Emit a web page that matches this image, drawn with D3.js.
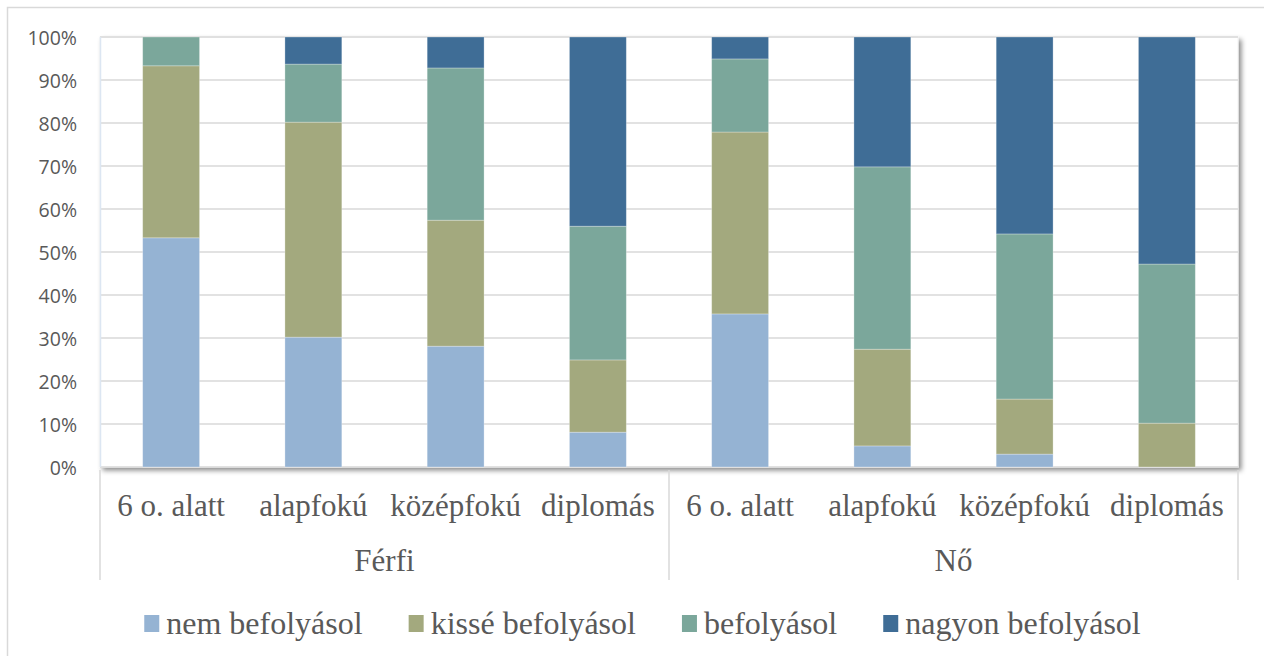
<!DOCTYPE html>
<html>
<head>
<meta charset="utf-8">
<script src="https://cdn.jsdelivr.net/npm/d3@7"></script>
<style>
  html, body { margin: 0; padding: 0; background: #fff; }
  svg { display: block; }
</style>
</head>
<body>
<svg id="chart" width="1264" height="656"></svg>
<script>
// ---- data ----
const groups = ["Férfi", "Nő"];
const categories = ["6 o. alatt", "alapfokú", "középfokú", "diplomás"];
const seriesNames = ["nem befolyásol", "kissé befolyásol", "befolyásol", "nagyon befolyásol"];
// values per bar (Férfi x4, then Nő x4), in percent
const nemBefolyasol     = [53.3, 30.2, 28.1,  8.1, 35.6,  4.9,  3.0,  0.0];
const kisseBefolyasol   = [40.0, 50.0, 29.3, 16.8, 42.3, 22.5, 12.8, 10.2];
const befolyasol        = [ 6.7, 13.5, 35.4, 31.1, 17.0, 42.4, 38.4, 37.0];
const nagyonBefolyasol  = [ 0.0,  6.3,  7.2, 44.0,  5.1, 30.2, 45.8, 52.8];
const yTicks = [0, 10, 20, 30, 40, 50, 60, 70, 80, 90, 100];
const colors = ["#95b3d3", "#a3a97e", "#7ba79b", "#3f6d96"];

// ---- build table ----
const rows = [];
groups.forEach((g, gi) => categories.forEach((c, ci) => {
  const i = gi * categories.length + ci;
  rows.push({
    key: g + "|" + c, group: g, cat: c,
    [seriesNames[0]]: nemBefolyasol[i],
    [seriesNames[1]]: kisseBefolyasol[i],
    [seriesNames[2]]: befolyasol[i],
    [seriesNames[3]]: nagyonBefolyasol[i]
  });
}));

const svg = d3.select("#chart");
const plot = { left: 100, right: 1238, top: 37, bottom: 467 };

// outer border (right and bottom edges run off the picture)
svg.append("rect")
  .attr("x", 7.5).attr("y", 7.5).attr("width", 1270).attr("height", 660)
  .attr("fill", "#fff").attr("stroke", "#d9d9d9").attr("stroke-width", 1.5);

const defs = svg.append("defs");
const f = defs.append("filter").attr("id", "shadow")
  .attr("x", "-5%").attr("y", "-5%").attr("width", "115%").attr("height", "115%");
f.append("feDropShadow").attr("dx", 3).attr("dy", 3).attr("stdDeviation", 2.5)
  .attr("flood-color", "#000").attr("flood-opacity", 0.45);

const x = d3.scaleBand().domain(rows.map(r => r.key))
  .range([plot.left, plot.right]).paddingInner(0.6).paddingOuter(0.3);
const y = d3.scaleLinear().domain([0, 100]).range([plot.bottom, plot.top]);

// plot background with shadow
svg.append("rect")
  .attr("x", plot.left).attr("y", plot.top)
  .attr("width", plot.right - plot.left).attr("height", plot.bottom - plot.top)
  .attr("fill", "#fff").attr("stroke", "#f2f2f2").attr("stroke-width", 1)
  .attr("filter", "url(#shadow)");

// gridlines
svg.append("g").selectAll("line").data(yTicks).join("line")
  .attr("x1", plot.left).attr("x2", plot.right)
  .attr("y1", d => y(d)).attr("y2", d => y(d))
  .attr("stroke", "#d9d9d9").attr("stroke-width", 1.5);

// left axis line (light)
svg.append("line")
  .attr("x1", plot.left + 0.5).attr("x2", plot.left + 0.5)
  .attr("y1", plot.top).attr("y2", plot.bottom)
  .attr("stroke", "#dce6f2").attr("stroke-width", 1.5);

// y tick labels
const yAxis = d3.axisLeft(y).tickValues(yTicks).tickFormat(d => d + "%").tickSize(0).tickPadding(23);
const ya = svg.append("g").attr("transform", `translate(${plot.left},0)`).call(yAxis);
ya.select(".domain").remove();
ya.selectAll("text")
  .attr("fill", "#595959").attr("font-family", "'Open Sans', sans-serif")
  .attr("font-size", 19.5).attr("dy", "0.36em");

// stacked bars
const stack = d3.stack().keys(seriesNames)(rows);
svg.append("g").selectAll("g").data(stack).join("g")
  .attr("fill", (d, i) => colors[i])
  .selectAll("rect").data(d => d).join("rect")
  .attr("x", d => x(d.data.key))
  .attr("width", x.bandwidth())
  .attr("y", d => y(d[1]))
  .attr("height", d => Math.max(0, y(d[0]) - y(d[1])))
  .attr("stroke", "rgba(255,255,255,0.35)").attr("stroke-width", 0.8);

// category labels
svg.append("g").selectAll("text").data(rows).join("text")
  .attr("x", d => x(d.key) + x.bandwidth() / 2)
  .attr("y", 516)
  .attr("text-anchor", "middle")
  .attr("fill", "#595959").attr("font-family", "'Liberation Serif', 'Times New Roman', serif")
  .attr("font-size", 31)
  .text(d => d.cat);

// group labels and separators
const step = x.step();
groups.forEach((g, gi) => {
  const keys = rows.filter(r => r.group === g).map(r => r.key);
  const x0 = x(keys[0]) - x.paddingInner() * step / 2 - (gi === 0 ? (x.paddingOuter() - x.paddingInner() / 2) * step : 0);
  const x1 = x(keys[keys.length - 1]) + x.bandwidth() + x.paddingInner() * step / 2 + (gi === groups.length - 1 ? (x.paddingOuter() - x.paddingInner() / 2) * step : 0);
  svg.append("text")
    .attr("x", (x0 + x1) / 2).attr("y", 571)
    .attr("text-anchor", "middle")
    .attr("fill", "#595959").attr("font-family", "'Liberation Serif', 'Times New Roman', serif")
    .attr("font-size", 31)
    .text(g);
});
const seps = [plot.left, (plot.left + plot.right) / 2, plot.right];
svg.append("g").selectAll("line").data(seps).join("line")
  .attr("x1", d => d).attr("x2", d => d)
  .attr("y1", plot.bottom + 3).attr("y2", 580)
  .attr("stroke", "#d9d9d9").attr("stroke-width", 1.5);

// legend
const legend = svg.append("g");
let lx = 0;
seriesNames.forEach((s, i) => {
  const gItem = legend.append("g").attr("transform", `translate(${lx},0)`);
  gItem.append("rect").attr("x", 0).attr("y", 615).attr("width", 15).attr("height", 17).attr("fill", colors[i]);
  const t = gItem.append("text").attr("x", 22).attr("y", 634)
    .attr("fill", "#595959").attr("font-family", "'Liberation Serif', 'Times New Roman', serif")
    .attr("font-size", 32).text(s);
  const w = 22 + t.node().getComputedTextLength();
  lx += w + (i < seriesNames.length - 1 ? 46 : 0);
});
const total = lx;
legend.attr("transform", `translate(${642.5 - total / 2},0)`);
</script>
</body>
</html>
